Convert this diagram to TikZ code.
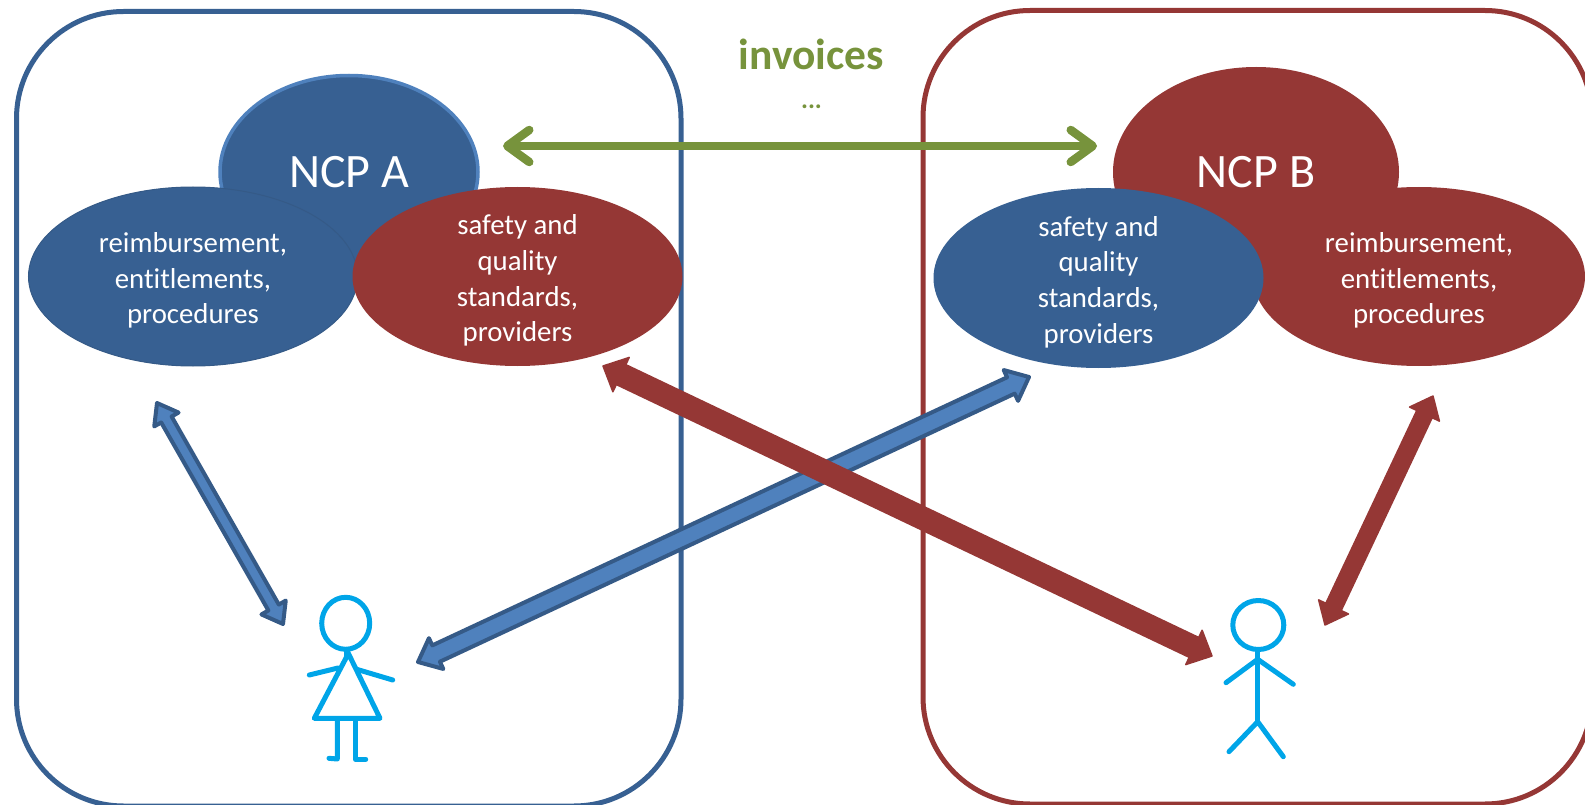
\documentclass[tikz,border=0pt]{standalone}
\usepackage{fontspec}
\setmainfont[Ligatures=NoCommon]{Carlito}
\usetikzlibrary{calc,arrows.meta,shapes.geometric}
\definecolor{bluedark}{HTML}{376092}
\definecolor{blueedge}{HTML}{355A87}
\definecolor{bluemid}{HTML}{4F81BD}
\definecolor{reddark}{HTML}{953735}
\definecolor{greenline}{HTML}{77933C}
\definecolor{figure}{HTML}{00A5E8}
\tikzset{
  framebox/.style={line width=5pt,rounded corners=107pt},
  oval/.style={ellipse,inner xsep=0pt,inner ysep=-25pt,text=white,align=center,font=\fontsize{28.8}{35.7}\selectfont},
  ncp/.style={ellipse,inner sep=0pt,text=white,font=\fontsize{48}{52}\selectfont},
  figline/.style={draw=figure,line width=5pt,line cap=round,line join=round},
  redblock/.style={fill=reddark,draw=reddark,line width=1.5pt,line join=round},
  blueblock/.style={fill=bluemid,draw=blueedge,line width=4pt,line join=round},
  greenarrow/.style={draw=greenline,line width=8.5pt,{Straight Barb[length=22pt,width=32pt,round]}-{Straight Barb[length=22pt,width=32pt,round]}}
}
% #1 style, #2 start, #3 end, #4 shaft half width, #5 head half width, #6 head length
\newcommand{\blockarrow}[6]{%
  \coordinate (ha) at ($(#2)!#6pt!(#3)$);
  \coordinate (hb) at ($(#3)!#6pt!(#2)$);
  \path[#1] (#2) -- ($(ha)!#5pt!90:(#3)$) -- ($(ha)!#4pt!90:(#3)$)
    -- ($(hb)!#4pt!-90:(#2)$) -- ($(hb)!#5pt!-90:(#2)$) -- (#3)
    -- ($(hb)!#5pt!90:(#2)$) -- ($(hb)!#4pt!90:(#2)$)
    -- ($(ha)!#4pt!-90:(#3)$) -- ($(ha)!#5pt!-90:(#3)$) -- cycle;
}
\newcommand{\lowertext}{\rule{0pt}{28pt}}
\begin{document}
\begin{tikzpicture}[x=1pt,y=-1pt]
\useasboundingbox (0,0) rectangle (1585,805);
\clip (0,0) rectangle (1585,805);
% frames
\draw[framebox,draw=bluedark] (16.5,11.5) rectangle (681,806);
\draw[framebox,draw=reddark] (923,10.5) rectangle (1592,804);
% green arrow
\coordinate (gl) at (503,146);
\coordinate (gr) at (1097,146);
% ovals
\node[ncp,fill=bluedark,draw=bluemid,line width=3.5pt,minimum width=258pt,minimum height=193pt] (ncpa) at (349,172) {NCP A};
\node[oval,fill=bluedark,draw=blueedge,line width=1pt,minimum width=329pt,minimum height=179pt] (reima) at (193,276.5) {\lowertext reimbursement,\\entitlements,\\procedures};
\node[oval,fill=reddark,minimum width=330pt,minimum height=179pt] (safea) at (517.5,276.5) {\lowertext safety and\\quality\\standards,\\providers};
\node[ncp,fill=reddark,minimum width=286pt,minimum height=210pt] (ncpb) at (1256,172) {NCP B};
\node[oval,fill=reddark,minimum width=332pt,minimum height=179pt] (reimb) at (1419,276.5) {\lowertext reimbursement,\\entitlements,\\procedures};
\node[oval,fill=bluedark,minimum width=330pt,minimum height=180pt] (safeb) at (1098.5,278) {\lowertext safety and\\quality\\standards,\\providers};
\draw[greenarrow] (gl) -- (gr);
\node[text=greenline,font=\fontsize{43.5}{46}\selectfont\bfseries] (inv) at (811.5,54) {invoices};
\node[text=greenline,anchor=base,font=\fontsize{26}{28}\selectfont\bfseries] (dots) at (811.5,109) {...};
% arrow ends
\coordinate (a1) at (157,403);
\coordinate (a2) at (283,624);
\coordinate (b1) at (418,662);
\coordinate (b2) at (1029,377);
\coordinate (c1) at (603,366);
\coordinate (c2) at (1212,656);
\coordinate (d1) at (1433,396);
\coordinate (d2) at (1325,625);
\blockarrow{blueblock}{a1}{a2}{6}{14}{19}
\blockarrow{blueblock}{b1}{b2}{9}{17}{20}
\blockarrow{redblock}{c1}{c2}{11}{19}{20}
\blockarrow{redblock}{d1}{d2}{8.5}{16.5}{20}
% female figure
\draw[figline] (345.7,623.3) ellipse [x radius=24,y radius=26];
\draw[figline] (346.7,650) -- (346.7,656.7) -- (314.3,718.3) -- (380,718.3) -- cycle;
\draw[figline] (309.3,675) -- (338,668);
\draw[figline] (356.7,669.3) -- (392.7,680);
\draw[figline] (329,758.3) -- (337.3,759) -- (337.3,720);
\draw[figline] (365.7,759.3) -- (355.7,759.3) -- (355.7,720);
% male figure
\draw[figline] (1258.3,625) ellipse [x radius=25.5,y radius=24.5];
\draw[figline] (1257.7,650) -- (1257.7,721.7);
\draw[figline] (1226,682.7) -- (1257.7,659.3) -- (1293.3,684.3);
\draw[figline] (1229,751.7) -- (1257.7,721.7) -- (1283.3,756.7);
\end{tikzpicture}
\end{document}
